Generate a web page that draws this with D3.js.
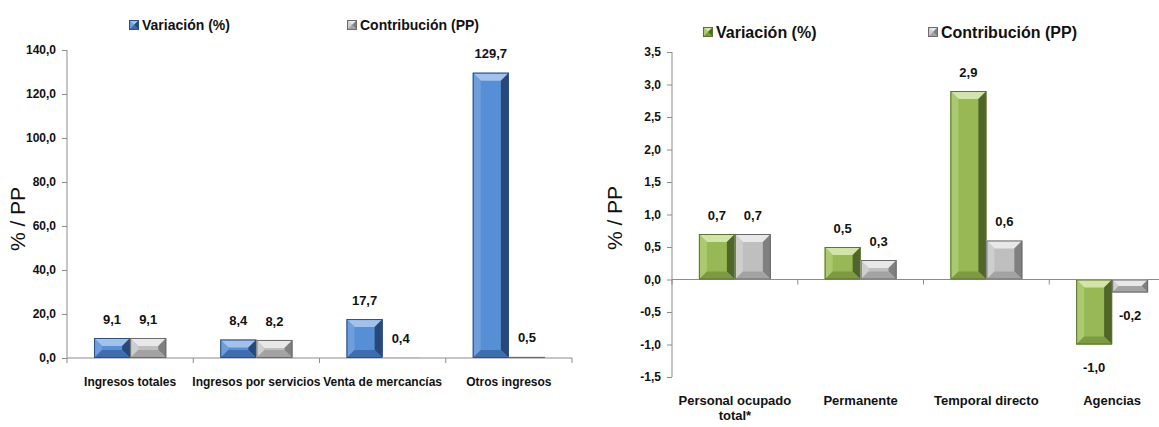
<!DOCTYPE html>
<html>
<head>
<meta charset="utf-8">
<script src="https://cdn.jsdelivr.net/npm/d3@7/dist/d3.min.js"></script>
<style>
  body { margin: 0; background: #fff; }
  svg { display: block; font-family: "Liberation Sans Narrow", "Arial Narrow", "Liberation Sans", Arial, sans-serif; }
</style>
</head>
<body>
<svg width="1159" height="427"></svg>
<script>
// data left chart (ingresos)
var categoriasIngresos = ["Ingresos totales", "Ingresos por servicios", "Venta de mercancías", "Otros ingresos"];
var variacionIngresos = [9.1, 8.4, 17.7, 129.7];
var contribucionIngresos = [9.1, 8.2, 0.4, 0.5];
var ticksIngresos = [0, 20, 40, 60, 80, 100, 120, 140];

// data right chart (personal)
var categoriasPersonal = [["Personal ocupado", "total*"], ["Permanente"], ["Temporal directo"], ["Agencias"]];
var variacionPersonal = [0.7, 0.5, 2.9, -1.0];
var contribucionPersonal = [0.7, 0.3, 0.6, -0.2];
var ticksPersonal = [-1.5, -1.0, -0.5, 0, 0.5, 1.0, 1.5, 2.0, 2.5, 3.0, 3.5];

var svg = d3.select("svg");
var fmt = function (v) { return d3.format(".1f")(v).replace(".", ",").replace("−", "-"); };

var blue = { top: "#a3c2ea", left: "#6f9edb", face: "#578fd6", right: "#27497a", bottom: "#3f6eae", line: "#2c4f80" };
var green = { top: "#d3e4ab", left: "#abc96e", face: "#98b856", right: "#4f6529", bottom: "#7d9a42", line: "#5b7330" };
var gray = { top: "#e8e8e8", left: "#cecece", face: "#bfbfbf", right: "#808080", bottom: "#a3a3a3", line: "#6a6a6a" };

function bevelBar(g, x, y, w, h, c) {
  if (h < 0.5) return;
  var b = Math.min(8, h / 2, w / 2);
  var pts = function (a) { return a.map(function (p) { return p.join(","); }).join(" "); };
  g.append("rect").attr("x", x).attr("y", y).attr("width", w).attr("height", h).attr("fill", c.face);
  g.append("polygon").attr("points", pts([[x, y], [x + w, y], [x + w - b, y + b], [x + b, y + b]])).attr("fill", c.top);
  g.append("polygon").attr("points", pts([[x, y], [x + b, y + b], [x + b, y + h - b], [x, y + h]])).attr("fill", c.left);
  g.append("polygon").attr("points", pts([[x + w, y], [x + w, y + h], [x + w - b, y + h - b], [x + w - b, y + b]])).attr("fill", c.right);
  g.append("polygon").attr("points", pts([[x, y + h], [x + b, y + h - b], [x + w - b, y + h - b], [x + w, y + h]])).attr("fill", c.bottom);
  g.append("rect").attr("x", x + 0.5).attr("y", y + 0.5).attr("width", Math.max(0, w - 1)).attr("height", Math.max(0, h - 1))
    .attr("fill", "none").attr("stroke", c.line).attr("stroke-width", 1);
}

function legendItem(x, y, c, label, size) {
  var g = svg.append("g");
  bevelBar(g, x, y - 5, 10, 10, c);
  g.append("text").attr("x", x + 13).attr("y", y).attr("dy", "0.35em")
    .style("font-weight", "bold").style("font-size", size + "px").attr("fill", "#111").text(label);
}

function chart(opt) {
  var x = d3.scaleBand().domain(d3.range(opt.cats.length)).range([opt.x0, opt.x1]);
  var y = d3.scaleLinear().domain(opt.domain).range([opt.y1, opt.y0]);
  var bw = x.bandwidth() * 0.286;
  var g = svg.append("g");

  // y axis
  var ya = g.append("g").attr("transform", "translate(" + opt.x0 + ",0)")
    .call(d3.axisLeft(y).tickValues(opt.ticks).tickFormat(fmt).tickSize(5).tickPadding(6));
  ya.select(".domain").attr("stroke", "#8c8c8c").attr("d", "M0," + y(opt.domain[1]) + "V" + y(opt.domain[0]));
  ya.selectAll(".tick line").attr("stroke", "#8c8c8c");
  ya.selectAll(".tick text").style("font-weight", "bold").style("font-size", "12px").attr("fill", "#111")
    .style("font-family", "'Liberation Sans', Arial, sans-serif");

  // x axis line at zero
  var y0 = y(0);
  g.append("line").attr("x1", opt.x0).attr("x2", opt.x1).attr("y1", y0).attr("y2", y0).attr("stroke", "#8c8c8c");
  g.selectAll(".ct").data(d3.range(opt.cats.length + 1)).enter().append("line")
    .attr("x1", function (i) { return opt.x0 + i * x.step(); })
    .attr("x2", function (i) { return opt.x0 + i * x.step(); })
    .attr("y1", y0).attr("y2", y0 + 5).attr("stroke", "#8c8c8c");

  // bars
  var series = [[opt.a, opt.ca, -1], [opt.b, opt.cb, 0]];
  series.forEach(function (s) {
    s[0].forEach(function (v, i) {
      var cx = x(i) + x.bandwidth() / 2;
      var bx = cx + s[2] * bw;
      var top = Math.min(y(v), y0), h = Math.abs(y(v) - y0);
      bevelBar(g, bx, top, bw, h, s[1]);
      g.append("text")
        .attr("x", bx + bw / 2)
        .attr("y", v >= 0 ? y(v) - 19 : y(v) + 23)
        .attr("dy", "0.35em")
        .attr("text-anchor", "middle")
        .style("font-weight", "bold").style("font-size", "13px").attr("fill", "#111")
        .text(fmt(v));
    });
  });

  // category labels
  opt.cats.forEach(function (c, i) {
    var lines = Array.isArray(c) ? c : [c];
    var t = g.append("text").attr("x", x(i) + x.bandwidth() / 2).attr("y", opt.labelY)
      .attr("text-anchor", "middle").style("font-weight", "bold").style("font-size", opt.catSize + "px").attr("fill", "#111");
    lines.forEach(function (l, k) {
      t.append("tspan").attr("x", x(i) + x.bandwidth() / 2).attr("dy", k === 0 ? "0.35em" : "1.2em").text(l);
    });
  });

  // y title
  svg.append("text")
    .attr("transform", "translate(" + opt.titleX + "," + opt.titleY + ")rotate(-90)")
    .attr("text-anchor", "middle").attr("dy", "0.35em")
    .style("font-size", "21px").style("font-family", "'Liberation Sans', Arial, sans-serif").attr("fill", "#111")
    .text("% / PP");
}

chart({
  cats: categoriasIngresos, a: variacionIngresos, b: contribucionIngresos, ca: blue, cb: gray,
  domain: [0, 140], ticks: ticksIngresos, x0: 67, x1: 572, y0: 50, y1: 358,
  labelY: 382, catSize: 12, titleX: 18, titleY: 219
});
chart({
  cats: categoriasPersonal, a: variacionPersonal, b: contribucionPersonal, ca: green, cb: gray,
  domain: [-1.5, 3.5], ticks: ticksPersonal, x0: 672, x1: 1175, y0: 52, y1: 377,
  labelY: 400, catSize: 13, titleX: 615, titleY: 218
});

legendItem(129, 25, blue, "Variación (%)", 14);
legendItem(347, 25, gray, "Contribución (PP)", 14);
legendItem(703, 32, green, "Variación (%)", 16);
legendItem(928, 32, gray, "Contribución (PP)", 16);
</script>
</body>
</html>
